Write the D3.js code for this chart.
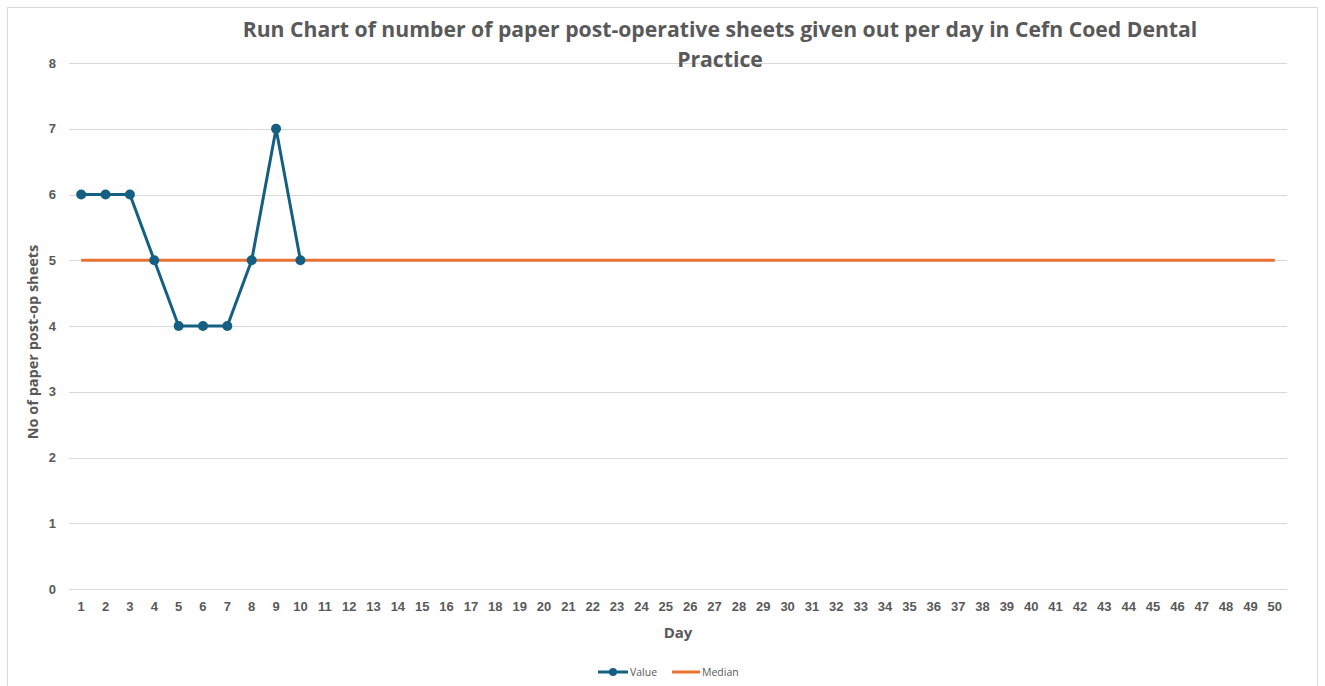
<!DOCTYPE html>
<html lang="en">
  <head>
    <meta charset="UTF-8" />
    <title>Run Chart – paper post-operative sheets</title>
    <script src="https://d3js.org/d3.v7.min.js"></script>
    <style>
      body {
        margin: 0;
        background: #fff;
        font-family: 'Open Sans', 'Liberation Sans', sans-serif;
      }
      .grid line {
        stroke: #d9d9d9;
        stroke-width: 1;
      }
      .axis text {
        fill: #595959;
        font-size: 13px;
        font-weight: bold;
      }
    </style>
  </head>
  <body>
    <div id="chart"></div>
    <script>
      // days 1..50 on the category axis
      const days = d3.range(1, 51);
      // observed values (only first 10 days recorded)
      const valueDays = [1, 2, 3, 4, 5, 6, 7, 8, 9, 10];
      const values = [6, 6, 6, 5, 4, 4, 4, 5, 7, 5];
      const median = 5;
      const yTicks = [0, 1, 2, 3, 4, 5, 6, 7, 8];

      const width = 1325,
        height = 686;
      const margin = { left: 69, right: 38, top: 63, bottom: 97 };

      const svg = d3
        .select('#chart')
        .append('svg')
        .attr('width', width)
        .attr('height', height);

      // chart frame
      svg
        .append('rect')
        .attr('x', 7.5)
        .attr('y', 7.5)
        .attr('width', 1310)
        .attr('height', 700)
        .attr('fill', '#fff')
        .attr('stroke', '#d9d9d9');

      const x = d3
        .scaleBand()
        .domain(days)
        .range([margin.left, width - margin.right]);
      const y = d3
        .scaleLinear()
        .domain([0, 8])
        .range([height - margin.bottom, margin.top]);

      // gridlines
      svg
        .append('g')
        .attr('class', 'grid')
        .selectAll('line')
        .data(yTicks)
        .join('line')
        .attr('x1', margin.left)
        .attr('x2', width - margin.right)
        .attr('y1', (d) => Math.round(y(d)) + 0.5)
        .attr('y2', (d) => Math.round(y(d)) + 0.5);

      // y axis labels
      const yAxis = svg
        .append('g')
        .attr('class', 'axis')
        .attr('transform', `translate(${margin.left - 13},0)`)
        .call(d3.axisLeft(y).tickValues(yTicks).tickSize(0).tickPadding(0));
      yAxis.select('.domain').remove();

      // x axis labels
      const xAxis = svg
        .append('g')
        .attr('class', 'axis')
        .attr('transform', `translate(0,${height - margin.bottom + 13})`)
        .call(d3.axisBottom(x).tickSize(0).tickPadding(0));
      xAxis.select('.domain').remove();

      const cx = (d) => x(d) + x.bandwidth() / 2;

      // median line
      svg
        .append('line')
        .attr('x1', cx(days[0]))
        .attr('x2', cx(days[days.length - 1]))
        .attr('y1', y(median))
        .attr('y2', y(median))
        .attr('stroke', '#e97132')
        .attr('stroke-width', 3);

      // value line + markers
      const pts = valueDays.map((d, i) => ({ day: d, v: values[i] }));
      svg
        .append('path')
        .datum(pts)
        .attr('fill', 'none')
        .attr('stroke', '#156082')
        .attr('stroke-width', 3)
        .attr('stroke-linejoin', 'round')
        .attr(
          'd',
          d3
            .line()
            .x((p) => cx(p.day))
            .y((p) => y(p.v))
        );
      svg
        .append('g')
        .selectAll('circle')
        .data(pts)
        .join('circle')
        .attr('cx', (p) => cx(p.day))
        .attr('cy', (p) => y(p.v))
        .attr('r', 5)
        .attr('fill', '#156082');

      // title
      const title = svg
        .append('text')
        .attr('x', 720)
        .attr('y', 37)
        .attr('text-anchor', 'middle')
        .attr('fill', '#595959')
        .attr('font-size', 21.2)
        .attr('font-weight', 'bold');
      title
        .append('tspan')
        .attr('x', 720)
        .text(
          'Run Chart of number of paper post-operative sheets given out per day in Cefn Coed Dental'
        );
      title.append('tspan').attr('x', 720).attr('dy', 30).text('Practice');

      // axis titles
      svg
        .append('text')
        .attr('x', 678)
        .attr('y', 638)
        .attr('text-anchor', 'middle')
        .attr('fill', '#595959')
        .attr('font-size', 15)
        .attr('font-weight', 'bold')
        .text('Day');
      svg
        .append('text')
        .attr('transform', 'translate(38,342) rotate(-90)')
        .attr('text-anchor', 'middle')
        .attr('fill', '#595959')
        .attr('font-size', 14.5)
        .attr('font-weight', 'bold')
        .text('No of paper post-op sheets');

      // legend
      const lg = svg.append('g').attr('transform', 'translate(598,672)');
      lg.append('line')
        .attr('x1', 0)
        .attr('x2', 30)
        .attr('stroke', '#156082')
        .attr('stroke-width', 3);
      lg.append('circle').attr('cx', 15).attr('r', 4).attr('fill', '#156082');
      lg.append('text')
        .attr('x', 32)
        .attr('y', 4)
        .attr('fill', '#595959')
        .attr('font-size', 10.5)
        .text('Value');
      lg.append('line')
        .attr('x1', 74)
        .attr('x2', 102)
        .attr('stroke', '#e97132')
        .attr('stroke-width', 3);
      lg.append('text')
        .attr('x', 104)
        .attr('y', 4)
        .attr('fill', '#595959')
        .attr('font-size', 10.5)
        .text('Median');
    </script>
  </body>
</html>
